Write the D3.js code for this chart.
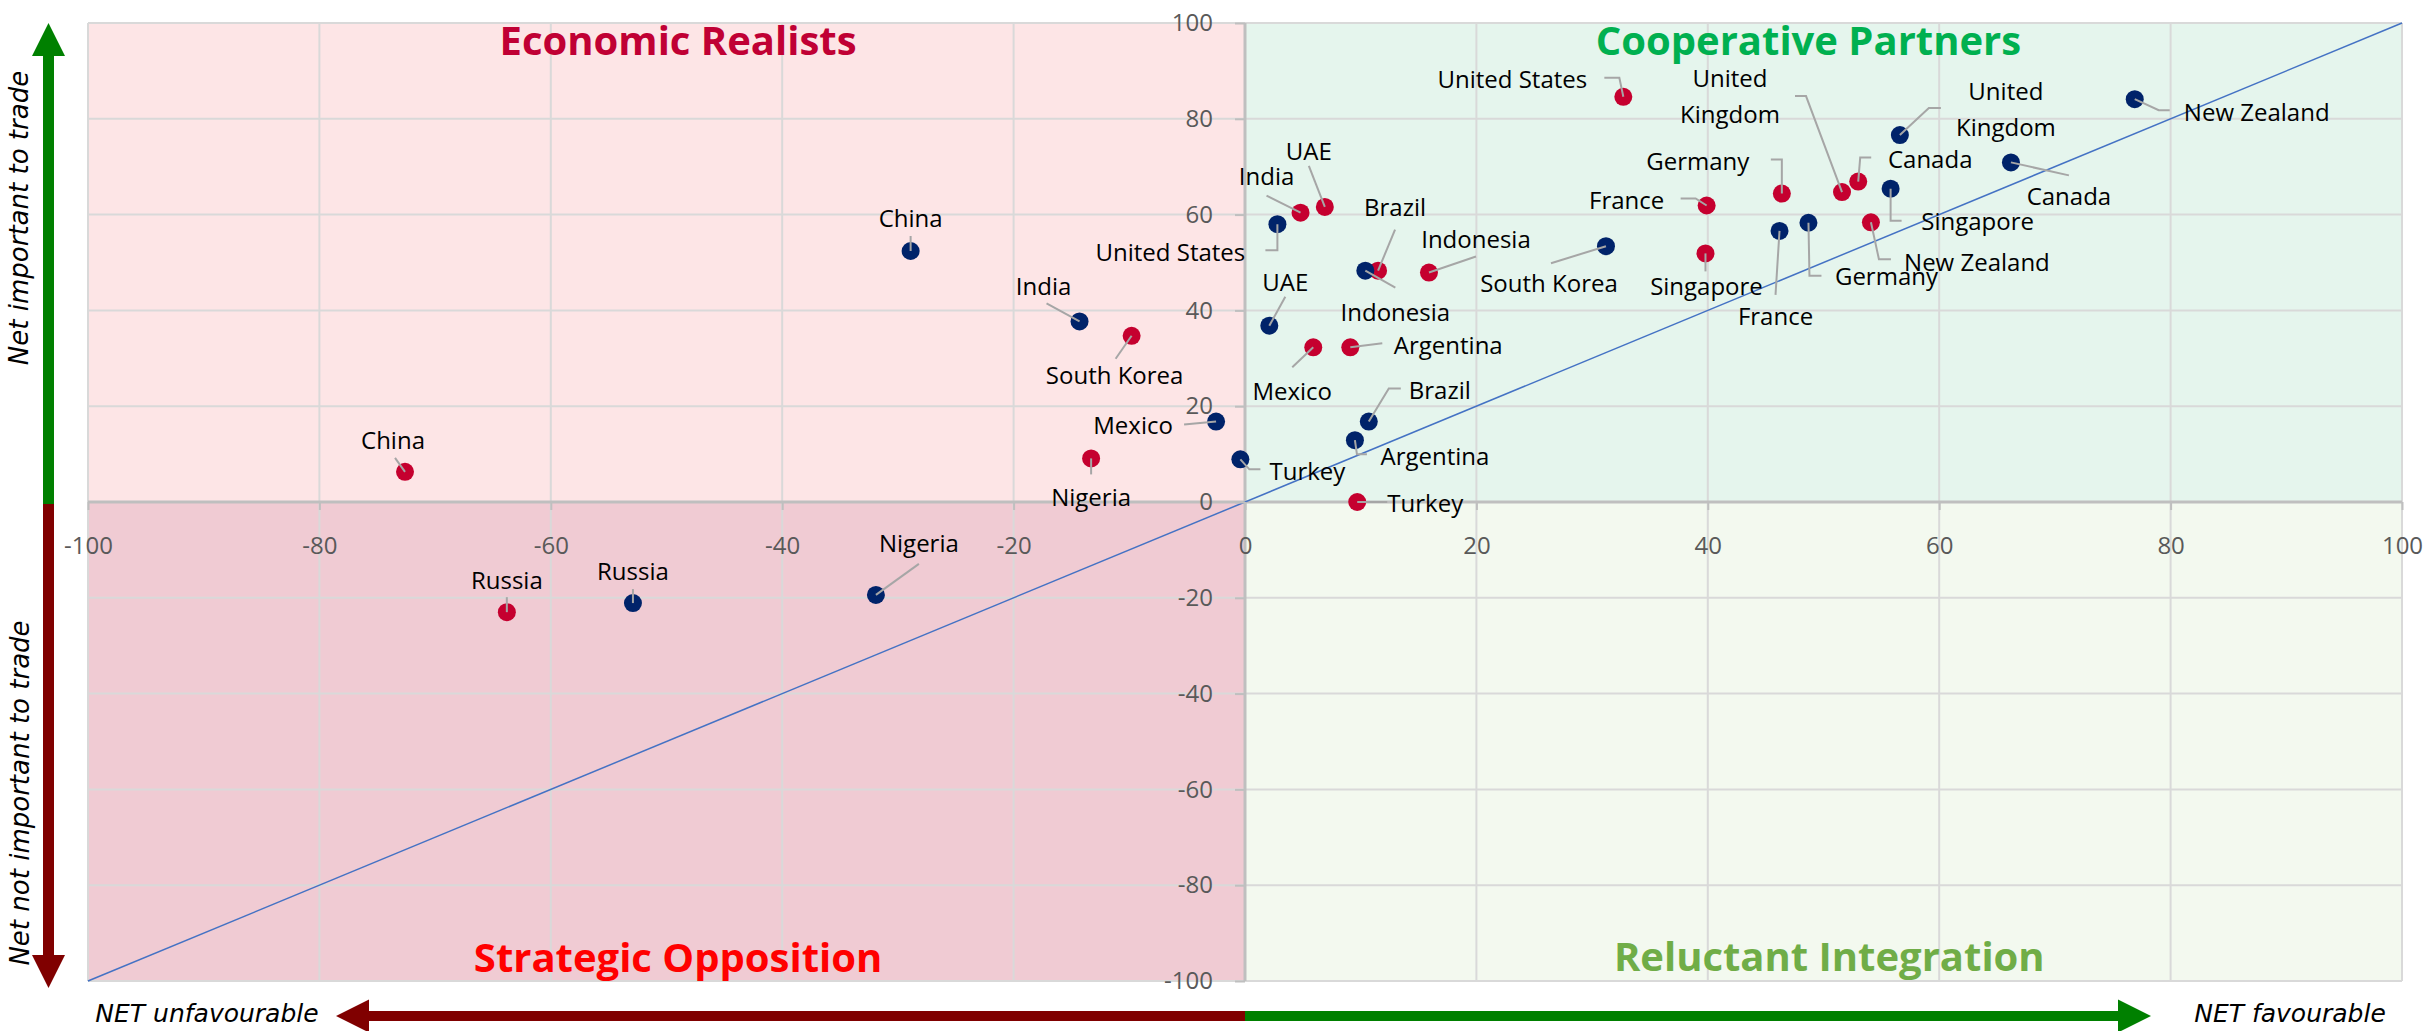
<!DOCTYPE html>
<html>
<head>
<meta charset="utf-8">
<script src="https://cdn.jsdelivr.net/npm/d3@7"></script>
<style>
  body { margin: 0; background: #fff; }
  svg { display: block; }
</style>
</head>
<body>
<svg id="chart"></svg>
<script>
// Countries, same order in both series
const countries = ['China', 'Russia', 'Nigeria', 'India', 'South Korea', 'Mexico', 'Turkey', 'United States', 'UAE',
    'Indonesia', 'Brazil', 'Argentina', 'France', 'Germany', 'Singapore', 'United Kingdom', 'Canada', 'New Zealand']

// Red series: NET favourable (x) and net important to trade (y)
const redFavourable = [-72.6, -63.8, -13.3, 4.8, -9.8, 5.9, 9.7, 32.7, 6.9, 15.9, 11.5, 9.1, 39.9, 46.4, 39.8, 51.6, 53.0, 54.1]
const redImportant = [6.3, -23.0, 9.1, 60.4, 34.7, 32.3, 0.0, 84.6, 61.6, 47.9, 48.3, 32.3, 61.9, 64.4, 51.9, 64.7, 66.9, 58.4]

// Navy series
const blueFavourable = [-28.9, -52.9, -31.9, -14.3, 31.2, -2.5, -0.4, 2.8, 2.1, 10.4, 10.7, 9.5, 46.2, 48.7, 55.8, 56.6, 66.2, 76.9]
const blueImportant = [52.4, -21.1, -19.4, 37.7, 53.4, 16.8, 8.9, 58.0, 36.8, 48.3, 16.8, 12.9, 56.6, 58.3, 65.4, 76.6, 70.9, 84.1]

const axisTicks = [-100, -80, -60, -40, -20, 0, 20, 40, 60, 80, 100]
const quadrantTitles = ['Economic Realists', 'Cooperative Partners', 'Strategic Opposition', 'Reluctant Integration']

// Label placement (px, relative to the marker) and leader polylines ending at the marker
const redLabels = {
    'China': { dx: -12, dy: -31, leader: [[-10, -14], [0, 0]] },
    'Russia': { dx: 0, dy: -32, leader: [[0, -15], [0, 0]] },
    'Nigeria': { dx: 0, dy: 39, leader: [[0, 16], [0, 0]] },
    'India': { dx: -34, dy: -36, leader: [[-34, -17], [0, 0]] },
    'South Korea': { dx: -17, dy: 40, leader: [[-16, 23], [0, 0]] },
    'Mexico': { dx: -21, dy: 44, leader: [[-21, 20], [0, 0]] },
    'Turkey': { dx: 68, dy: 2, leader: [[30, 0], [0, 0]] },
    'United States': { dx: -111, dy: -17, leader: [[-19, -19], [-4, -19], [0, 0]] },
    'UAE': { dx: -16, dy: -55, leader: [[-16, -41], [0, 0]] },
    'Indonesia': { dx: 47, dy: -33, leader: [[47, -16], [0, 0]] },
    'Brazil': { dx: 17, dy: -63, leader: [[17, -41], [0, 0]] },
    'Argentina': { dx: 98, dy: -2, leader: [[32, -4], [0, 0]] },
    'France': { dx: -80, dy: -5, leader: [[-26, -7], [-11, -7], [0, 0]] },
    'Germany': { dx: -84, dy: -32, leader: [[-11, -34], [0, -34], [0, 0]] },
    'Singapore': { dx: 1, dy: 33, leader: [[0, 18], [0, 0]] },
    'United Kingdom': { dx: -112, dy: -95, wrap: true, leader: [[-47, -96], [-36, -96], [0, 0]] },
    'Canada': { dx: 72, dy: -22, leader: [[13, -24], [2, -24], [0, 0]] },
    'New Zealand': { dx: 106, dy: 40, leader: [[20, 37], [8, 37], [0, 0]] }
}
const blueLabels = {
    'China': { dx: 0, dy: -32, leader: [[0, -15], [0, 0]] },
    'Russia': { dx: 0, dy: -31, leader: [[0, -14], [0, 0]] },
    'Nigeria': { dx: 43, dy: -51, leader: [[43, -31], [0, 0]] },
    'India': { dx: -36, dy: -35, leader: [[-33, -18], [0, 0]] },
    'South Korea': { dx: -57, dy: 37, leader: [[-55, 17], [0, 0]] },
    'Mexico': { dx: -83, dy: 4, leader: [[-32, 3], [0, 0]] },
    'Turkey': { dx: 67, dy: 12, leader: [[20, 10], [9, 10], [0, 0]] },
    'United States': { dx: -107, dy: 28, leader: [[-12, 26], [0, 26], [0, 0]] },
    'UAE': { dx: 16, dy: -43, leader: [[16, -29], [0, 0]] },
    'Indonesia': { dx: 30, dy: 42, leader: [[30, 17], [0, 0]] },
    'Brazil': { dx: 71, dy: -31, leader: [[32, -33], [20, -33], [0, 0]] },
    'Argentina': { dx: 80, dy: 16, leader: [[12, 14], [2, 14], [0, 0]] },
    'France': { dx: -4, dy: 86, leader: [[-4, 64], [0, 0]] },
    'Germany': { dx: 78, dy: 54, leader: [[13, 53], [1, 53], [0, 0]] },
    'Singapore': { dx: 87, dy: 33, leader: [[11, 32], [0, 32], [0, 0]] },
    'United Kingdom': { dx: 106, dy: -25, wrap: true, leader: [[41, -27], [29, -27], [0, 0]] },
    'Canada': { dx: 58, dy: 34, leader: [[58, 13], [0, 0]] },
    'New Zealand': { dx: 122, dy: 13, leader: [[35, 11], [24, 11], [0, 0]] }
}

const width = 2433, height = 1031
const RED = '#C5002F', NAVY = '#00236A'

let svg = d3.select('#chart')
    .attr('width', width)
    .attr('height', height)

let x = d3.scaleLinear().domain([-100, 100]).range([88, 2402])
let y = d3.scaleLinear().domain([-100, 100]).range([981, 23])

// Quadrant backgrounds
const quads = [
    { x0: -100, x1: 0, y0: 0, y1: 100, fill: '#FDE5E6' },
    { x0: 0, x1: 100, y0: 0, y1: 100, fill: '#E5F5ED' },
    { x0: -100, x1: 0, y0: -100, y1: 0, fill: '#F0CBD3' },
    { x0: 0, x1: 100, y0: -100, y1: 0, fill: '#F3F9EF' }
]
svg.append('g').selectAll('rect').data(quads)
    .enter().append('rect')
    .attr('x', d => x(d.x0))
    .attr('y', d => y(d.y1))
    .attr('width', d => x(d.x1) - x(d.x0))
    .attr('height', d => y(d.y0) - y(d.y1))
    .style('fill', d => d.fill)

// Gridlines
let grid = svg.append('g').attr('stroke', '#D9D9D9').attr('stroke-width', 2)
grid.selectAll('.vx').data(axisTicks).enter().append('line')
    .attr('x1', d => x(d)).attr('x2', d => x(d))
    .attr('y1', y(100)).attr('y2', y(-100))
grid.selectAll('.hy').data(axisTicks).enter().append('line')
    .attr('y1', d => y(d)).attr('y2', d => y(d))
    .attr('x1', x(-100)).attr('x2', x(100))

// Zero lines
svg.append('line').attr('x1', x(-100)).attr('x2', x(100)).attr('y1', y(0)).attr('y2', y(0))
    .attr('stroke', '#BFBFBF').attr('stroke-width', 3)
svg.append('line').attr('x1', x(0)).attr('x2', x(0)).attr('y1', y(100)).attr('y2', y(-100))
    .attr('stroke', '#BFBFBF').attr('stroke-width', 3)

// Diagonal reference line
svg.append('line')
    .attr('x1', x(-100)).attr('y1', y(-100))
    .attr('x2', x(100)).attr('y2', y(100))
    .attr('stroke', '#4472C4').attr('stroke-width', 1.5)

// Axes through the origin
let yAxis = svg.append('g')
    .attr('transform', 'translate(' + x(0) + ',0)')
    .call(d3.axisLeft(y).tickValues(axisTicks).tickSize(10).tickPadding(22).tickFormat(d => String(d)))
let xAxis = svg.append('g')
    .attr('transform', 'translate(0,' + y(0) + ')')
    .call(d3.axisBottom(x).tickValues(axisTicks).tickSize(8).tickPadding(27).tickFormat(d => String(d)))
;[xAxis, yAxis].forEach(a => {
    a.select('.domain').remove()
    a.selectAll('.tick line').attr('stroke', '#BFBFBF').attr('stroke-width', 2)
    a.selectAll('.tick text')
        .style('font-family', '"Open Sans", sans-serif')
        .style('font-size', '24px')
        .style('fill', '#595959')
})

// Quadrant titles
const titlePos = [[-49, 55, '#C00034'], [48.7, 55, '#00B050'], [-49, 972, '#FF0000'], [50.5, 971, '#70AD47']]
svg.append('g').selectAll('text').data(quadrantTitles)
    .enter().append('text')
    .attr('x', (d, i) => x(titlePos[i][0]))
    .attr('y', (d, i) => titlePos[i][1])
    .attr('text-anchor', 'middle')
    .style('font-family', '"Open Sans", sans-serif')
    .style('font-weight', 'bold')
    .style('font-size', '40px')
    .style('fill', (d, i) => titlePos[i][2])
    .text(d => d)

// Direction arrows along the left and bottom
const GREEN = '#008000', MAROON = '#800000'
const arrowV = (x0, yFrom, yTo, color) => {
    let dir = yTo > yFrom ? 1 : -1, head = 33, hw = 16.5, sw = 5.5
    let yb = yTo - dir * head
    return svg.append('path')
        .attr('d', 'M' + (x0 - sw) + ',' + yFrom + 'L' + (x0 - sw) + ',' + yb + 'L' + (x0 - hw) + ',' + yb +
            'L' + x0 + ',' + yTo + 'L' + (x0 + hw) + ',' + yb + 'L' + (x0 + sw) + ',' + yb + 'L' + (x0 + sw) + ',' + yFrom + 'Z')
        .style('fill', color)
}
const arrowH = (y0, xFrom, xTo, color) => {
    let dir = xTo > xFrom ? 1 : -1, head = 33, hw = 16.5, sw = 5
    let xb = xTo - dir * head
    return svg.append('path')
        .attr('d', 'M' + xFrom + ',' + (y0 - sw) + 'L' + xb + ',' + (y0 - sw) + 'L' + xb + ',' + (y0 - hw) +
            'L' + xTo + ',' + y0 + 'L' + xb + ',' + (y0 + hw) + 'L' + xb + ',' + (y0 + sw) + 'L' + xFrom + ',' + (y0 + sw) + 'Z')
        .style('fill', color)
}
arrowV(48.5, y(0) + 2, 23, GREEN)
arrowV(48.5, y(0) + 2, 988, MAROON)
arrowH(1016, x(0), 336, MAROON)
arrowH(1016, x(0), 2151, GREEN)

const axisFont = '"DejaVu Sans", sans-serif'
svg.append('text')
    .attr('transform', 'translate(28,218) rotate(-90)')
    .attr('text-anchor', 'middle')
    .style('font-family', axisFont).style('font-style', 'italic').style('font-size', '26px')
    .text('Net important to trade')
svg.append('text')
    .attr('transform', 'translate(29,793) rotate(-90)')
    .attr('text-anchor', 'middle')
    .style('font-family', axisFont).style('font-style', 'italic').style('font-size', '26px')
    .text('Net not important to trade')
svg.append('text')
    .attr('x', 207).attr('y', 1022)
    .attr('text-anchor', 'middle')
    .style('font-family', axisFont).style('font-style', 'italic').style('font-size', '25px')
    .text('NET unfavourable')
svg.append('text')
    .attr('x', 2290).attr('y', 1022)
    .attr('text-anchor', 'middle')
    .style('font-family', axisFont).style('font-style', 'italic').style('font-size', '25px')
    .text('NET favourable')

// Build point tables from the series arrays
const series = [
    { color: RED, xs: redFavourable, ys: redImportant, labels: redLabels },
    { color: NAVY, xs: blueFavourable, ys: blueImportant, labels: blueLabels }
]
let points = []
series.forEach(s => {
    countries.forEach((c, i) => {
        points.push({ name: c, color: s.color, px: x(s.xs[i]), py: y(s.ys[i]), lab: s.labels[c] })
    })
})

// Markers
svg.append('g').selectAll('circle').data(points)
    .enter().append('circle')
    .attr('cx', d => d.px)
    .attr('cy', d => d.py)
    .attr('r', 9)
    .style('fill', d => d.color)

// Leader lines (drawn over markers)
let line = d3.line()
svg.append('g').selectAll('path').data(points)
    .enter().append('path')
    .attr('d', d => line(d.lab.leader.map(p => [d.px + p[0], d.py + p[1]])))
    .attr('fill', 'none')
    .attr('stroke', '#A6A6A6')
    .attr('stroke-width', 2)

// Labels
let labels = svg.append('g').selectAll('text').data(points)
    .enter().append('text')
    .attr('x', d => d.px + d.lab.dx)
    .attr('y', d => d.py + d.lab.dy)
    .attr('text-anchor', 'middle')
    .style('font-family', '"Open Sans", sans-serif')
    .style('font-size', '24px')
    .style('fill', '#000')
labels.each(function(d) {
    let t = d3.select(this)
    if (d.lab.wrap) {
        let words = d.name.split(' ')
        t.append('tspan').attr('x', d.px + d.lab.dx).attr('dy', '-0.4em').text(words[0])
        t.append('tspan').attr('x', d.px + d.lab.dx).attr('dy', '1.5em').text(words[1])
    } else {
        t.attr('dy', '0.35em').text(d.name)
    }
})
</script>
</body>
</html>
